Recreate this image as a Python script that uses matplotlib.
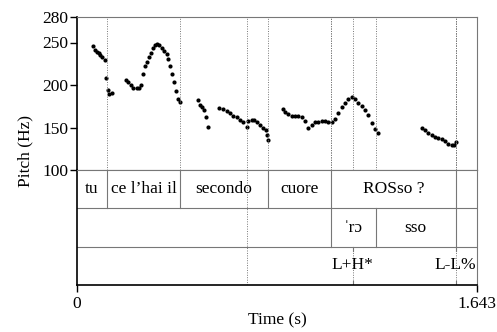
import matplotlib
matplotlib.use('Agg')
import matplotlib.pyplot as plt

plt.rcParams['font.family'] = ['Liberation Serif', 'DejaVu Serif']

# pitch contour (s, Hz), one list per voiced stretch
seg_t = [
    [0.067, 0.075, 0.081, 0.089, 0.094, 0.103, 0.114, 0.120, 0.126, 0.133, 0.144],
    [0.201, 0.211, 0.221, 0.231, 0.245, 0.256, 0.264, 0.272, 0.281, 0.288, 0.295, 0.303, 0.311,
     0.320, 0.330, 0.338, 0.348, 0.357, 0.368, 0.375, 0.382, 0.390, 0.398, 0.405, 0.414, 0.423],
    [0.496, 0.505, 0.515, 0.523, 0.531, 0.539],
    [0.584, 0.601, 0.615, 0.628, 0.642, 0.656, 0.670, 0.683, 0.697, 0.704, 0.718, 0.728, 0.738,
     0.752, 0.765, 0.775, 0.779, 0.786],
    [0.847, 0.854, 0.868, 0.882, 0.895, 0.909, 0.923, 0.937, 0.950, 0.964, 0.978, 0.991, 1.005,
     1.019, 1.032, 1.046, 1.060, 1.073, 1.087, 1.101, 1.115, 1.128, 1.142, 1.156, 1.170, 1.183,
     1.197, 1.210, 1.224, 1.235],
    [1.416, 1.429, 1.443, 1.457, 1.470, 1.484, 1.498, 1.512, 1.525, 1.539, 1.550, 1.555],
]
seg_f = [
    [246, 241, 239, 238, 235, 233, 229, 208, 194, 189, 191],
    [206, 203, 200, 197, 196, 197, 200, 213, 222, 227, 233, 238, 244,
     247, 248, 247, 244, 240, 237, 231, 222, 213, 203, 193, 183, 180],
    [182, 177, 174, 171, 162, 151],
    [173, 172, 169, 167, 164, 162, 159, 157, 151, 158, 159, 159, 157,
     153, 150, 147, 141, 135],
    [172, 168, 166, 164, 164, 163, 162, 158, 150, 153, 156, 157, 158,
     158, 157, 156, 160, 167, 174, 179, 183, 186, 183, 179, 175, 171,
     165, 155, 148, 143],
    [150, 147, 144, 141, 139, 138, 137, 134, 131, 129, 129, 133],
]

t_end = 1.643

# interval tiers: boundaries and labels
words_b = [0, 0.122, 0.424, 0.783, 1.043, 1.555, t_end]
words = ['tu', 'ce l\u2019hai il', 'secondo', 'cuore', 'ROSso ?', '']
syl_b = [0, 1.043, 1.228, 1.555, t_end]
syls = ['', '\u02c8r\u0254', 'sso', '']
# point tier
tones_t = [1.132, 1.555]
tones = ['L+H*', 'L-L%']
extra_line = 0.700

fs = 12.5
grey = '#777777'

fig = plt.figure(figsize=(4.97, 3.32), dpi=100)
axp = fig.add_axes([77/497, 1-170/332, 400/497, 153/332])
axt = fig.add_axes([77/497, 1-285/332, 400/497, 115/332])

for t, f in zip(seg_t, seg_f):
    axp.plot(t, f, 'o', color='black', ms=3.0, mec='none')

for x in words_b[1:-1] + syl_b[1:-1] + tones_t + [extra_line]:
    axp.axvline(x, color=grey, lw=0.7, ls=(0, (1, 1.5)))

axp.set_xlim(0, t_end)
axp.set_ylim(100, 280)
axp.set_yticks([100, 150, 200, 250, 280])
axp.set_xticks([])
axp.tick_params(axis='y', length=5, width=1, pad=1, labelsize=fs)
for s in ['top', 'right', 'bottom']:
    axp.spines[s].set_color(grey)
    axp.spines[s].set_linewidth(0.8)
axp.spines['left'].set_linewidth(1.2)

# tiers, y from 0 (bottom) to 3 (top)
axt.set_xlim(0, t_end)
axt.set_ylim(0, 3)
for y in [1, 2]:
    axt.axhline(y, color=grey, lw=0.8)
for x in words_b[1:-1]:
    axt.plot([x, x], [2, 3], color=grey, lw=0.8)
for a, b, lab in zip(words_b[:-1], words_b[1:], words):
    axt.text((a+b)/2, 2.5, lab, ha='center', va='center', fontsize=fs)
for x in syl_b[1:-1]:
    axt.plot([x, x], [1, 2], color=grey, lw=0.8)
for a, b, lab in zip(syl_b[:-1], syl_b[1:], syls):
    axt.text((a+b)/2, 1.5, lab, ha='center', va='center', fontsize=fs)
for x, lab in zip(tones_t, tones):
    axt.plot([x, x], [0, 1], color=grey, lw=0.7, ls=(0, (1, 1.5)))
    axt.plot([x, x], [0.9, 1], color=grey, lw=0.8)
    axt.plot([x, x], [0, 0.1], color=grey, lw=0.8)
    axt.text(x, 0.52, lab, ha='center', va='center', fontsize=fs)
axt.plot([extra_line, extra_line], [0, 3], color=grey, lw=0.7, ls=(0, (1, 1.5)))

axt.set_yticks([])
axt.set_xticks([0, t_end])
axt.set_xticklabels(['0', '1.643'])
axt.tick_params(axis='x', length=5, width=1, pad=3, labelsize=fs)
for s in ['top', 'right']:
    axt.spines[s].set_color(grey)
    axt.spines[s].set_linewidth(0.8)
axt.spines['left'].set_linewidth(1.2)
axt.spines['bottom'].set_linewidth(1.2)

fig.text(277/497, 1-320/332, 'Time (s)', ha='center', va='center', fontsize=fs)
fig.text(25/497, 1-151/332, 'Pitch (Hz)', rotation=90, ha='center', va='center', fontsize=fs)

fig.savefig('out.png', dpi=100)
